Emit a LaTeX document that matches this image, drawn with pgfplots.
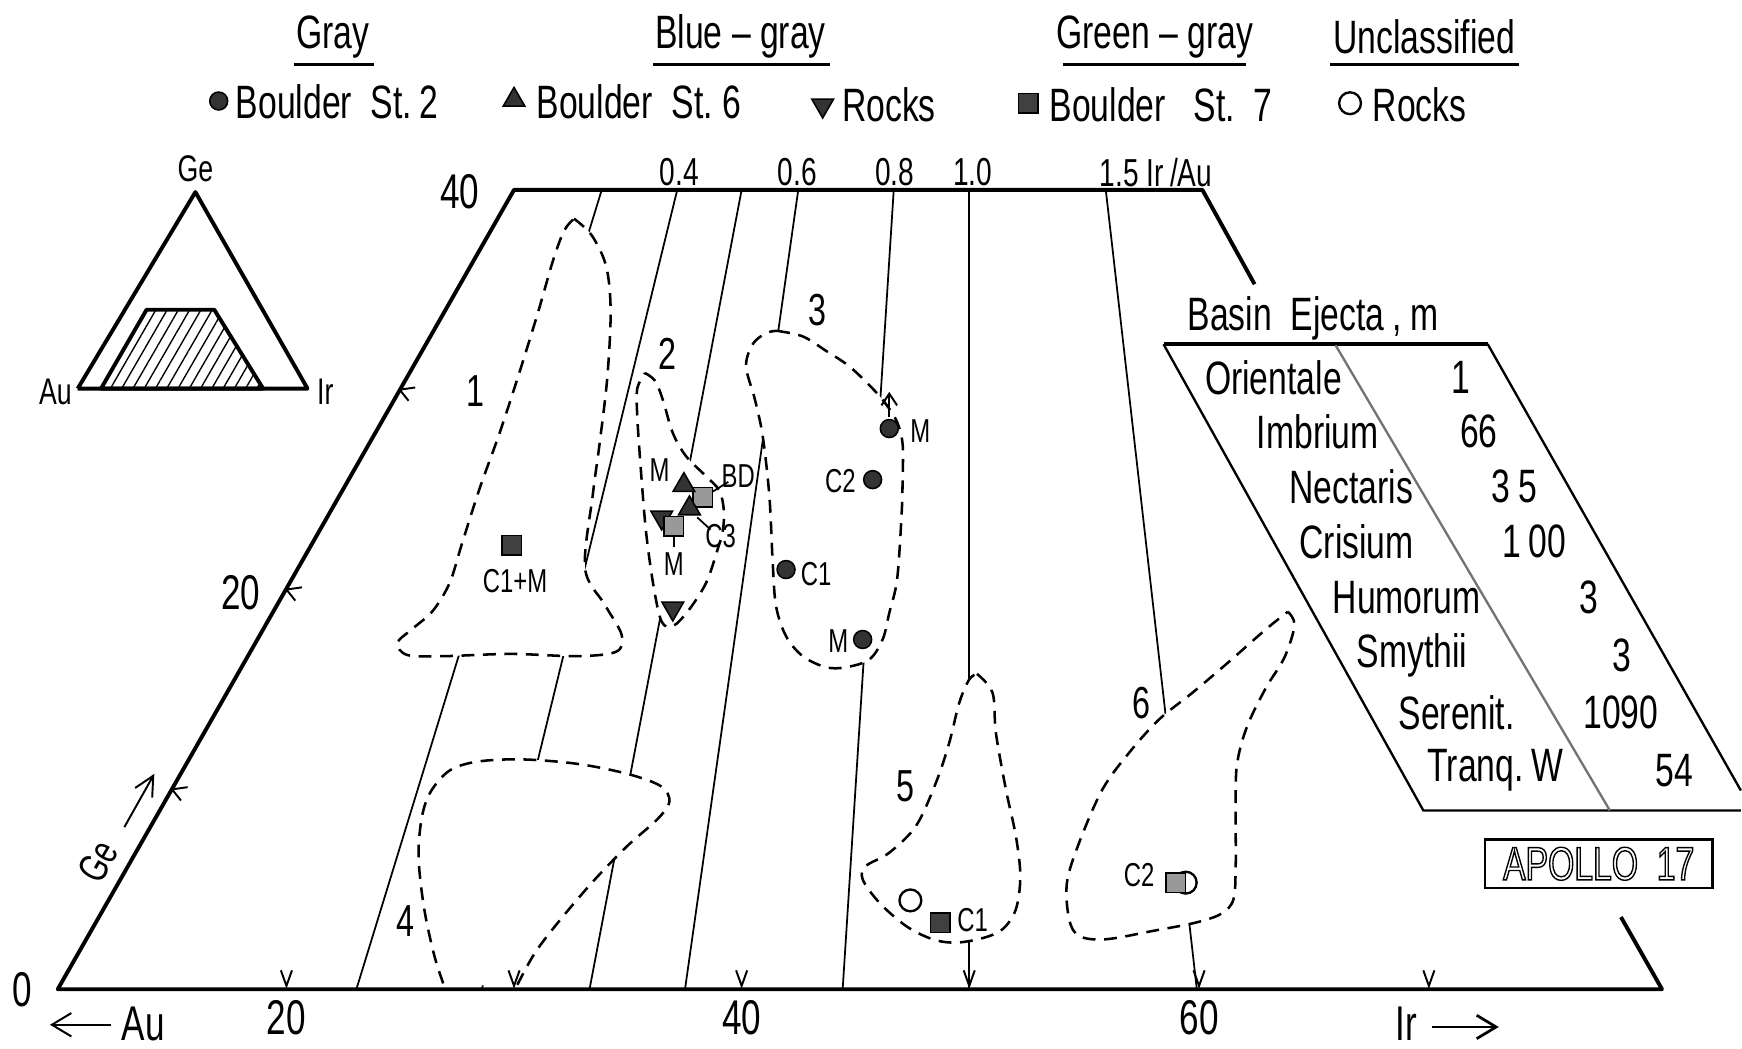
\documentclass[border=0pt]{standalone}
\usepackage{fontspec}
\setmainfont{Liberation Sans}[FakeStretch=0.72]
\usepackage{pgfplots}
\pgfplotsset{compat=1.18}
\usetikzlibrary{patterns.meta,arrows.meta}
\newcommand{\fs}[1]{\fontsize{#1}{#1}\selectfont}
\pgfplotsset{
 gc/.style={only marks, mark=*, mark size=2.3pt, mark options={fill=black!80, draw=black, line width=0.4pt}},
 tri/.style={only marks, mark=triangle*, mark size=3.2pt, mark options={fill=black!80, draw=black, line width=0.4pt}},
 itri/.style={only marks, mark=triangle*, mark size=3.2pt, mark options={fill=black!80, draw=black, line width=0.4pt, rotate=180}},
 sq/.style={only marks, mark=square*, mark size=2.5pt, mark options={fill=black!75, draw=black, line width=0.4pt}},
 sql/.style={only marks, mark=square*, mark size=2.5pt, mark options={fill=black!40, draw=black, line width=0.4pt}},
 oc/.style={only marks, mark=o, mark size=2.8pt, mark options={draw=black, line width=0.6pt}},
 reg/.style={smooth, tension=0.55, fill=white, draw=black, line width=0.65pt, dash pattern=on 3.3pt off 2.2pt, mark=none},
 thin/.style={line width=0.45pt, mark=none},
 thick/.style={line width=1pt, mark=none, line join=round},
}
\begin{document}
\begin{tikzpicture}[every node/.style={inner sep=0.5pt}]
\begin{axis}[
  width=15.68cm, height=9.44cm, scale only axis,
  xmin=0, xmax=1568, ymin=0, ymax=944, y dir=reverse,
  axis lines=none, clip=false,
]
\addplot[draw=none, mark=none] coordinates {(0,0) (1568,944)};

% ---------------- header ----------------
\node[font=\fs{12}] at (axis cs:300,33) {Gray};
\node[font=\fs{12}] at (axis cs:667,33) {Blue -- gray};
\node[font=\fs{12}] at (axis cs:1040,33) {Green -- gray};
\node[font=\fs{12}] at (axis cs:1283,33) {Unclassified};
\addplot[line width=0.8pt, mark=none] coordinates {(265,58) (337,58)};
\addplot[line width=0.8pt, mark=none] coordinates {(588,58) (748,58)};
\addplot[line width=0.8pt, mark=none] coordinates {(957,58) (1122,58)};
\addplot[line width=0.8pt, mark=none] coordinates {(1198,58) (1368,58)};

\addplot[gc] coordinates {(197,91)};
\addplot[tri] coordinates {(463,90)};
\addplot[itri] coordinates {(741,95)};
\addplot[sq] coordinates {(926,93)};
\addplot[oc] coordinates {(1216,93)};
\node[font=\fs{12}, anchor=west] at (axis cs:210,92) {Boulder\ \ St.\,2};
\node[font=\fs{12}, anchor=west] at (axis cs:481,92) {Boulder\ \ St.\ 6};
\node[font=\fs{12}, anchor=west] at (axis cs:756,94) {Rocks};
\node[font=\fs{12}, anchor=west] at (axis cs:943,94) {Boulder\ \ \ St.\ \ 7};
\node[font=\fs{12}, anchor=west] at (axis cs:1234,94) {Rocks};

% ---------------- inset triangle ----------------
\addplot[thick, pattern={Lines[angle=60, distance=2.5pt, line width=0.35pt]}] coordinates {(91,350) (132,279) (193,279) (237,350)} -- cycle;
\addplot[thick] coordinates {(70,350) (176,173) (277,350) (70,350)};
\node[font=\fs{9.5}] at (axis cs:176,152) {Ge};
\node[font=\fs{9.5}] at (axis cs:50,353) {Au};
\node[font=\fs{9.5}] at (axis cs:293,353) {Ir};

% ---------------- Ir/Au ratio lines ----------------
\addplot[thin] coordinates {(542,171) (321,891)};
\addplot[thin] coordinates {(610,171) (434,891)};
\addplot[thin] coordinates {(668,171) (531,891)};
\addplot[thin] coordinates {(719,171) (617,891)};
\addplot[thin] coordinates {(805,171) (759,891)};
\addplot[thin] coordinates {(873,171) (873,891)};
\addplot[thin] coordinates {(996,171) (1078,891)};
\node[font=\fs{10}] at (axis cs:612,155) {0.4};
\node[font=\fs{10}] at (axis cs:718,155) {0.6};
\node[font=\fs{10}] at (axis cs:806,155) {0.8};
\node[font=\fs{10}] at (axis cs:876,155) {1.0};
\node[font=\fs{10}, anchor=west] at (axis cs:988,155) {1.5\ Ir\,/Au};

% ---------------- regions ----------------
% 1
\addplot[reg] coordinates {(517,197) (533,212) (546,240) (550,280) (547,340) (540,400) (534,445) (527,512) (545,545) (560,572) (555,587) (520,591) (460,589) (400,591) (367,590) (358,579) (372,566) (390,550) (405,525) (416,490) (432,440) (450,390) (468,335) (485,280) (498,235) (508,208) (517,197)};
% 2
\addplot[reg] coordinates {(581,336) (590,343) (597,360) (606,390) (618,411) (636,429) (648,442) (652,460) (651,478) (646,496) (636,525) (620,550) (606,564) (596,560) (589,530) (582,480) (577,420) (574,375) (574,350) (581,336)};
% 3
\addplot[reg] coordinates {(700,298) (723,303) (744,316) (765,330) (786,350) (798,364) (808,380) (813,400) (813,432) (812,465) (808,522) (801,552) (795,576) (783,594) (762,601) (744,601) (723,591) (708,573) (699,546) (696,507) (693,447) (687,393) (680,360) (672,330) (678,310) (690,300) (700,298)};
% 4
\addplot[reg] coordinates {(466,887) (482,858) (505,828) (535,793) (565,762) (592,738) (603,722) (595,708) (565,697) (520,688) (470,684) (430,686) (405,694) (388,713) (380,736) (377,772) (382,818) (391,860) (400,888)};
% 5
\addplot[reg] coordinates {(880,607) (894,624) (897,660) (906,711) (915,753) (919,789) (915,819) (903,837) (885,845) (861,849) (840,846) (816,834) (792,813) (777,792) (780,780) (801,768) (825,744) (843,705) (855,669) (864,633) (873,612) (880,607)};
% 6
\addplot[reg] coordinates {(1160,551) (1166,563) (1157,592) (1140,620) (1123,655) (1114,690) (1113,735) (1113,780) (1111,810) (1100,823) (1077,831) (1041,838) (996,846) (972,843) (963,828) (961,795) (972,759) (993,711) (1017,678) (1044,648) (1074,624) (1107,596) (1140,567) (1160,551)};

\node[font=\fs{11.5}] at (axis cs:428,352) {1};
\node[font=\fs{11.5}] at (axis cs:601,319) {2};
\node[font=\fs{11.5}] at (axis cs:736,279) {3};
\node[font=\fs{11.5}] at (axis cs:365,830) {4};
\node[font=\fs{11.5}] at (axis cs:816,708) {5};
\node[font=\fs{11.5}] at (axis cs:1028,633) {6};

% ---------------- trapezoid frame ----------------
\addplot[thick] coordinates {(1130,256) (1083,171) (463,171) (52,891) (1497,891) (1460,826)};
% bottom ticks
\addplot[line width=0.5pt, mark=none] coordinates {(253,874) (258,888) (263,874)};
\addplot[line width=0.5pt, mark=none] coordinates {(458,874) (463,888) (468,874)};
\addplot[line width=0.5pt, mark=none] coordinates {(663,874) (668,888) (673,874)};
\addplot[line width=0.5pt, mark=none] coordinates {(868,874) (873,888) (878,874)};
\addplot[line width=0.5pt, mark=none] coordinates {(1075,874) (1080,888) (1085,874)};
\addplot[line width=0.5pt, mark=none] coordinates {(1282,874) (1287,888) (1292,874)};
% left ticks
\addplot[line width=0.5pt, mark=none] coordinates {(169,709) (155,711) (163,721)};
\addplot[line width=0.5pt, mark=none] coordinates {(272,529) (258,531) (266,541)};
\addplot[line width=0.5pt, mark=none] coordinates {(374,349) (360,351) (368,361)};
\node[font=\fs{12.5}] at (axis cs:20,891) {0};
\node[font=\fs{12.5}] at (axis cs:217,534) {20};
\node[font=\fs{12.5}] at (axis cs:414,173) {40};
\node[font=\fs{12.5}] at (axis cs:258,917) {20};
\node[font=\fs{12.5}] at (axis cs:668,917) {40};
\node[font=\fs{12.5}] at (axis cs:1080,917) {60};
\node[font=\fs{12.5}] at (axis cs:129,922) {Au};
\addplot[line width=0.5pt, mark=none, -{Straight Barb[length=5pt,width=6pt]}] coordinates {(100,923) (45,923)};
\node[font=\fs{12.5}] at (axis cs:1267,922) {Ir};
\addplot[line width=0.7pt, mark=none, -{Straight Barb[length=5pt,width=6pt]}] coordinates {(1290,925) (1350,925)};
\node[font=\fs{10.5}, rotate=60] at (axis cs:88,776) {Ge};
\addplot[line width=0.5pt, mark=none, -{Straight Barb[length=5pt,width=5pt]}] coordinates {(112,745) (139,697)};

% ---------------- points ----------------
% region 1
\addplot[sq] coordinates {(461,491)};
\node[font=\fs{8.5}] at (axis cs:464,523) {C1+M};
% region 2
\addplot[line width=0.45pt, mark=none] coordinates {(656,434) (640,444)};
\addplot[line width=0.45pt, mark=none] coordinates {(640,477) (628,466)};
\addplot[line width=0.45pt, mark=none] coordinates {(607,480) (607,493)};
\addplot[itri] coordinates {(596,466) (606,548)};
\addplot[sql] coordinates {(633,448) (607,474)};
\addplot[tri] coordinates {(616,437) (621,458)};
\node[font=\fs{8.5}] at (axis cs:594,423) {M};
\node[font=\fs{8.5}] at (axis cs:665,429) {BD};
\node[font=\fs{8.5}] at (axis cs:649,483) {C3};
\node[font=\fs{8.5}] at (axis cs:607,508) {M};
% region 3
\addplot[line width=0.5pt, mark=none, -{Straight Barb[length=3pt,width=4pt]}] coordinates {(801,376) (801,353)};
\addplot[gc] coordinates {(801,386) (786,432) (708,513) (777,576)};
\node[font=\fs{8.5}] at (axis cs:829,388) {M};
\node[font=\fs{8.5}] at (axis cs:757,433) {C2};
\node[font=\fs{8.5}] at (axis cs:735,517) {C1};
\node[font=\fs{8.5}] at (axis cs:755,577) {M};
% region 5
\addplot[oc] coordinates {(820,811)};
\addplot[sq] coordinates {(847,831)};
\node[font=\fs{8.5}] at (axis cs:876,829) {C1};
% region 6
\addplot[oc] coordinates {(1068,795)};
\addplot[sql] coordinates {(1059,795)};
\node[font=\fs{8.5}] at (axis cs:1026,788) {C2};

% ---------------- Basin ejecta table ----------------
\node[font=\fs{12}] at (axis cs:1183,287) {Basin\ \ Ejecta\,,\ m};
\addplot[line width=1.1pt, mark=none] coordinates {(1048,310) (1340,310)};
\addplot[line width=0.6pt, mark=none] coordinates {(1048,310) (1282,730) (1568,730)};
\addplot[line width=0.6pt, mark=none] coordinates {(1340,310) (1568,712)};
\addplot[line width=0.6pt, black!55, mark=none] coordinates {(1203,311) (1450,730)};
\node[font=\fs{12}] at (axis cs:1147,340) {Orientale};
\node[font=\fs{12}] at (axis cs:1187,389) {Imbrium};
\node[font=\fs{12}] at (axis cs:1217,438) {Nectaris};
\node[font=\fs{12}] at (axis cs:1222,488) {Crisium};
\node[font=\fs{12}] at (axis cs:1267,538) {Humorum};
\node[font=\fs{12}] at (axis cs:1272,590) {Smythii};
\node[font=\fs{12}] at (axis cs:1312,642) {Serenit.};
\node[font=\fs{12}] at (axis cs:1347,694) {Tranq.\,W};
\node[font=\fs{12}] at (axis cs:1316,340) {1};
\node[font=\fs{12}] at (axis cs:1332,389) {66};
\node[font=\fs{12}] at (axis cs:1364,438) {3\,5};
\node[font=\fs{12}] at (axis cs:1382,488) {1\,00};
\node[font=\fs{12}] at (axis cs:1431,538) {3};
\node[font=\fs{12}] at (axis cs:1461,590) {3};
\node[font=\fs{12}] at (axis cs:1460,642) {1090};
\node[font=\fs{12}] at (axis cs:1508,694) {54};

% ---------------- Apollo 17 box ----------------
\node[draw, line width=0.6pt, minimum width=2.05cm, minimum height=0.44cm, inner sep=1pt, font=\fs{12}] at (axis cs:1440,778) {\special{pdf:literal direct 1 Tr 0.35 w}APOLLO\ \ 17\special{pdf:literal direct 0 Tr}};
\end{axis}
\end{tikzpicture}
\end{document}
